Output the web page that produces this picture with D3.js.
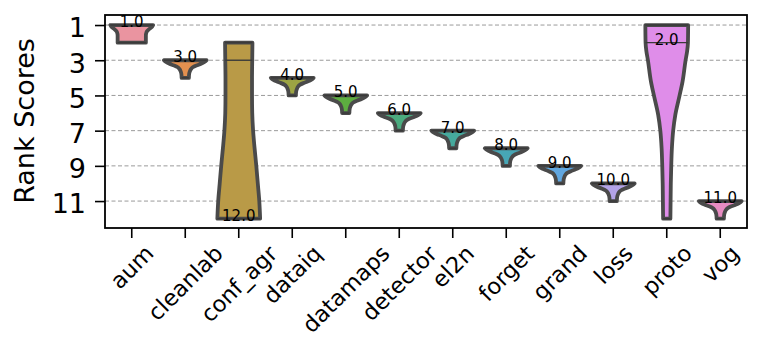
<!DOCTYPE html>
<html>
<head>
<meta charset="utf-8">
<style>
  body { margin: 0; background: #fff; }
  text { font-family: "DejaVu Sans", sans-serif; }
</style>
</head>
<body>
<script src="https://d3js.org/d3.v7.min.js"></script>
<script>
// methods on the x axis
var methods = ["aum", "cleanlab", "conf_agr", "dataiq", "datamaps", "detector",
  "el2n", "forget", "grand", "loss", "proto", "vog"];

// ranks seen for each method (drawn as sticks, they also give the violin range)
var observed = [[1, 2], [3, 4], [2, 3, 12], [4, 5], [5, 6], [6, 7],
  [7, 8], [8, 9], [9, 10], [10, 11], [1, 2, 12], [11, 12]];

// number written on each violin, and the rank where it sits
var labelValues = [1, 3, 12, 4, 5, 6, 7, 8, 9, 10, 2, 11];

// violin outlines: [rank offset from the lowest rank, relative width]
var aumDensity = [[0, 1], [0.1, 0.95], [0.25, 0.8], [0.4, 0.69], [0.6, 0.66], [1, 0.66]];
var stepDensity = [[0, 1], [0.1, 0.9], [0.2, 0.74], [0.3, 0.52], [0.4, 0.35], [0.5, 0.27],
  [0.65, 0.21], [0.8, 0.18], [1, 0.17]];
var confAgrDensity = [[0, 0.64], [1, 0.63], [2, 0.62], [3, 0.62], [4, 0.63], [5, 0.67],
  [6, 0.74], [7, 0.82], [8, 0.89], [9, 0.96], [10, 1]];
var protoDensity = [[0, 1], [1, 0.99], [1.5, 0.95], [2, 0.88], [3.2, 0.74], [4, 0.6],
  [5.1, 0.4], [6, 0.3], [7, 0.24], [8, 0.21], [9, 0.19], [10, 0.18], [11, 0.17]];
var densities = [aumDensity, stepDensity, confAgrDensity, stepDensity, stepDensity, stepDensity,
  stepDensity, stepDensity, stepDensity, stepDensity, protoDensity, stepDensity];

var colors = ["#ea94a0", "#e3904f", "#b99a47", "#9ca443", "#5dae40", "#4bab7f",
  "#46aa9d", "#47a6b5", "#60a6df", "#b3a3e8", "#df8de9", "#e78bc1"];

var yTicks = [1, 3, 5, 7, 9, 11];

var W = 761, H = 341;
var margin = {left: 105, top: 15, right: 14, bottom: 113};

var svg = d3.select("body").append("svg")
  .attr("width", W)
  .attr("height", H);

var x = d3.scaleBand()
  .domain(methods)
  .range([margin.left, W - margin.right]);

var y = d3.scaleLinear()
  .domain([0.43, 12.53])
  .range([margin.top, H - margin.bottom]);

// grid
svg.append("g")
  .selectAll("line")
  .data(yTicks)
  .join("line")
  .attr("x1", margin.left)
  .attr("x2", W - margin.right)
  .attr("y1", function (d) { return y(d); })
  .attr("y2", function (d) { return y(d); })
  .attr("stroke", "#8f8f8f")
  .attr("stroke-width", 0.9)
  .attr("stroke-dasharray", "4,2.5");

var halfW = x.bandwidth() * 0.8 / 2;

var violins = svg.append("g")
  .selectAll("g")
  .data(methods)
  .join("g");

violins.each(function (m, i) {
  var g = d3.select(this);
  var lo = d3.min(observed[i]);
  var cx = x(m) + x.bandwidth() / 2;
  var dens = densities[i];
  var widthAt = d3.scaleLinear()
    .domain(dens.map(function (d) { return d[0]; }))
    .range(dens.map(function (d) { return d[1]; }))
    .clamp(true);

  var area = d3.area()
    .curve(d3.curveMonotoneY)
    .y(function (d) { return y(lo + d[0]); })
    .x0(function (d) { return cx - halfW * d[1]; })
    .x1(function (d) { return cx + halfW * d[1]; });

  g.append("path")
    .attr("d", area(dens))
    .attr("fill", colors[i])
    .attr("stroke", "#4a4a4a")
    .attr("stroke-width", 3.8)
    .attr("stroke-linejoin", "round");

  g.selectAll("line.stick")
    .data(observed[i])
    .join("line")
    .attr("class", "stick")
    .attr("x1", function (r) { return cx - halfW * widthAt(r - lo); })
    .attr("x2", function (r) { return cx + halfW * widthAt(r - lo); })
    .attr("y1", function (r) { return y(r); })
    .attr("y2", function (r) { return y(r); })
    .attr("stroke", "#3a3a3a")
    .attr("stroke-width", 1.4);

  g.append("text")
    .attr("x", cx)
    .attr("y", y(labelValues[i]) + 2)
    .attr("text-anchor", "middle")
    .attr("font-size", 15)
    .attr("fill", "#000")
    .text(labelValues[i].toFixed(1));
});

// frame
svg.append("rect")
  .attr("x", margin.left)
  .attr("y", margin.top)
  .attr("width", W - margin.right - margin.left)
  .attr("height", H - margin.bottom - margin.top)
  .attr("fill", "none")
  .attr("stroke", "#000")
  .attr("stroke-width", 1.8);

// y axis
var yAxis = svg.append("g")
  .attr("transform", "translate(" + margin.left + ",0)")
  .call(d3.axisLeft(y).tickValues(yTicks).tickSize(10).tickPadding(9));
yAxis.select(".domain").remove();
yAxis.selectAll(".tick line").attr("stroke-width", 1.6);
yAxis.selectAll(".tick text")
  .attr("font-size", 27)
  .attr("font-family", "DejaVu Sans")
  .attr("fill", "#000")
  .attr("dy", "0.44em");

// x axis
var xAxis = svg.append("g")
  .attr("transform", "translate(0," + (H - margin.bottom) + ")")
  .call(d3.axisBottom(x).tickSize(10).tickFormat(""));
xAxis.select(".domain").remove();
xAxis.selectAll(".tick line").attr("stroke-width", 1.6);

var labelTop = H - margin.bottom + 12;
methods.forEach(function (m) {
  var g = svg.append("g");
  g.append("text")
    .attr("transform", "rotate(-45)")
    .attr("text-anchor", "middle")
    .attr("dominant-baseline", "central")
    .attr("font-size", 22.5)
    .attr("fill", "#000")
    .text(m);
  var bb = g.node().getBBox();
  g.attr("transform", "translate(" + (x(m) + x.bandwidth() / 2) + "," + (labelTop + bb.height / 2) + ")");
});

// y label
svg.append("text")
  .attr("transform", "translate(34," + 121 + ") rotate(-90)")
  .attr("text-anchor", "middle")
  .attr("font-size", 27)
  .attr("fill", "#000")
  .text("Rank Scores");
</script>
</body>
</html>
